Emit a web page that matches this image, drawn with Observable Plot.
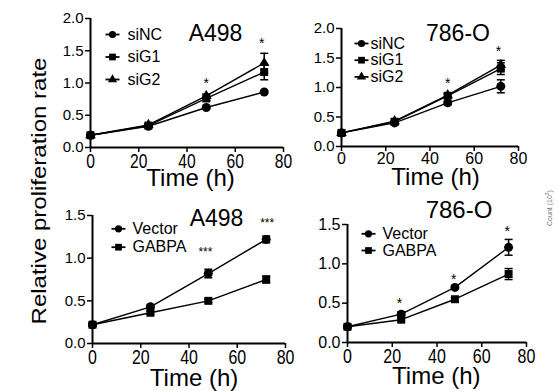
<!DOCTYPE html>
<html>
<head>
<meta charset="utf-8">
<script src="https://cdn.jsdelivr.net/npm/d3@7"></script>
<script src="https://cdn.jsdelivr.net/npm/@observablehq/plot@0.6"></script>
<style>
html, body { margin: 0; padding: 0; background: #fff; }
#fig { position: relative; width: 558px; height: 391px; overflow: hidden; background: #fff;
       font-family: "Liberation Sans", Arial, Helvetica, sans-serif; color: #000; }
#fig svg { position: absolute; overflow: visible; }
#fig g[aria-label="x-axis tick"] path, #fig g[aria-label="y-axis tick"] path { stroke-width: 1.5px; }
#fig g[aria-label="sig3"] text { letter-spacing: 1.5px; }
.ylab { position: absolute; left: 39px; top: 191px; font-size: 20px; white-space: nowrap; line-height: 1;
        transform: translate(-50%, -50%) rotate(-90deg) scaleX(1.2); }
.count { position: absolute; left: 549px; top: 208px; font-size: 7px; white-space: nowrap; color: #777; line-height: 1;
         transform: translate(-50%, -50%) rotate(-90deg); }
</style>
</head>
<body>
<div id="fig">
  <div class="ylab">Relative proliferation rate</div>
  <div class="count">Count (10<sup style="font-size:5px">3</sup>)</div>
</div>
<script>
// ---------- data ----------
const times = [0, 24, 48, 72];
const xTicks = [0, 20, 40, 60, 80];
const yTicksTop = [0, 0.5, 1.0, 1.5, 2.0];
const yTicksBottom = [0, 0.5, 1.0, 1.5];
const titles = ["A498", "786-O", "A498", "786-O"];
const xLabel = "Time (h)";
const knockdownNames = ["siNC", "siG1", "siG2"];
const overexpNames = ["Vector", "GABPA"];

// A498, knockdown
const a498kd_siNC = [0.19, 0.33, 0.62, 0.86];
const a498kd_siNC_err = [0.02, 0.02, 0.02, 0.02];
const a498kd_siG1 = [0.19, 0.34, 0.76, 1.17];
const a498kd_siG1_err = [0.02, 0.02, 0.03, 0.12];
const a498kd_siG2 = [0.19, 0.35, 0.80, 1.31];
const a498kd_siG2_err = [0.02, 0.02, 0.03, 0.15];
const a498kd_starX = [48, 71];
const a498kd_starY = [1.05, 1.67];
const a498kd_starText = ["*", "*"];

// 786-O, knockdown
const o786kd_siNC = [0.23, 0.40, 0.74, 1.02];
const o786kd_siNC_err = [0.02, 0.02, 0.03, 0.11];
const o786kd_siG1 = [0.23, 0.42, 0.86, 1.32];
const o786kd_siG1_err = [0.02, 0.02, 0.03, 0.10];
const o786kd_siG2 = [0.23, 0.43, 0.87, 1.38];
const o786kd_siG2_err = [0.02, 0.02, 0.03, 0.08];
const o786kd_starX = [48, 71];
const o786kd_starY = [1.13, 1.67];
const o786kd_starText = ["*", "*"];

// A498, overexpression
const a498oe_Vector = [0.22, 0.43, 0.82, 1.22];
const a498oe_Vector_err = [0.02, 0.02, 0.05, 0.04];
const a498oe_GABPA = [0.22, 0.36, 0.50, 0.75];
const a498oe_GABPA_err = [0.02, 0.02, 0.02, 0.04];
const a498oe_starX = [72.4, 46.8];
const a498oe_starY = [1.44, 1.11];
const a498oe_starText = ["***", "***"];

// 786-O, overexpression
const o786oe_Vector = [0.20, 0.36, 0.70, 1.21];
const o786oe_Vector_err = [0.02, 0.03, 0.02, 0.10];
const o786oe_GABPA = [0.20, 0.29, 0.55, 0.87];
const o786oe_GABPA_err = [0.02, 0.02, 0.02, 0.07];
const o786oe_starX = [23.2, 47.5, 71.4];
const o786oe_starY = [0.54, 0.85, 1.45];
const o786oe_starText = ["*", "*", "*"];

// ---------- layout ----------
const symbols = ["circle", "square", "triangle"];
const markerR = {circle: 4.5, square: 4.5, triangle: 3.9};
const legendR = {circle: 3.6, square: 3.8, triangle: 3.4};

const panels = [
  {title: titles[0], names: knockdownNames,
   values: [a498kd_siNC, a498kd_siG1, a498kd_siG2], errors: [a498kd_siNC_err, a498kd_siG1_err, a498kd_siG2_err],
   starX: a498kd_starX, starY: a498kd_starY, starText: a498kd_starText,
   yMax: 2, yTicks: yTicksTop,
   left: 0, top: 0, width: 300, height: 200, mL: 90, mR: 17, mT: 18, mB: 53,
   xFont: 20, xCondense: 0.78, yFont: 15,
   titleDx: 125, titleDy: 15.5, titleFont: 23,
   legDx: 22, legDy: 16, legStep: 22.5, legTextDx: 37, legFont: 16,
   labDx: 3.5, labDy: 31},
  {title: titles[1], names: knockdownNames,
   values: [o786kd_siNC, o786kd_siG1, o786kd_siG2], errors: [o786kd_siNC_err, o786kd_siG1_err, o786kd_siG2_err],
   starX: o786kd_starX, starY: o786kd_starY, starText: o786kd_starText,
   yMax: 2, yTicks: yTicksTop,
   left: 280, top: 0, width: 278, height: 200, mL: 61, mR: 40, mT: 28, mB: 54,
   xFont: 16, xCondense: 1, yFont: 15,
   titleDx: 116.5, titleDy: 5.5, titleFont: 23,
   legDx: 20, legDy: 15, legStep: 16.7, legTextDx: 29, legFont: 16,
   labDx: 5.5, labDy: 31},
  {title: titles[2], names: overexpNames,
   values: [a498oe_Vector, a498oe_GABPA], errors: [a498oe_Vector_err, a498oe_GABPA_err],
   starX: a498oe_starX, starY: a498oe_starY, starText: a498oe_starText,
   yMax: 1.5, yTicks: yTicksBottom,
   left: 0, top: 195, width: 300, height: 196, mL: 92, mR: 15, mT: 20, mB: 48,
   xFont: 21, xCondense: 0.76, yFont: 15,
   titleDx: 124, titleDy: 3, titleFont: 23,
   legDx: 26, legDy: 13.3, legStep: 18.4, legTextDx: 40, legFont: 16,
   labDx: 5, labDy: 34.5},
  {title: titles[3], names: overexpNames,
   values: [o786oe_Vector, o786oe_GABPA], errors: [o786oe_Vector_err, o786oe_GABPA_err],
   starX: o786oe_starX, starY: o786oe_starY, starText: o786oe_starText,
   yMax: 1.5, yTicks: yTicksBottom,
   left: 280, top: 195, width: 278, height: 196, mL: 67, mR: 32, mT: 29, mB: 49,
   xFont: 20, xCondense: 0.8, yFont: 16,
   titleDx: 111.5, titleDy: -14, titleFont: 24,
   legDx: 21, legDy: 9.3, legStep: 16.7, legTextDx: 35, legFont: 16,
   labDx: -0.7, labDy: 34}
];

const capSym = {draw(c) { c.moveTo(-4, 0); c.lineTo(4, 0); }};
const legSym = {draw(c) { c.moveTo(-7, 0); c.lineTo(7, 0); }};
const font = '"Liberation Sans", Arial, Helvetica, sans-serif';
const fig = document.getElementById("fig");

for (const p of panels) {
  const rows = p.names.flatMap((name, si) =>
    times.map((t, i) => ({name, si, t, v: p.values[si][i], e: p.errors[si][i]})));
  const stars = p.starX.map((x, i) => ({x, y: p.starY[i], label: p.starText[i]}));

  const marks = [
    Plot.line(rows, {x: "t", y: "v", z: "name", stroke: "black", strokeWidth: 1.4}),
    Plot.ruleX(rows, {x: "t", y1: d => d.v - d.e, y2: d => d.v + d.e, stroke: "black", strokeWidth: 1.5}),
    Plot.dot(rows, {x: "t", y: d => d.v + d.e, symbol: capSym, r: 3, fill: "none", stroke: "black", strokeWidth: 1.5}),
    Plot.dot(rows, {x: "t", y: d => d.v - d.e, symbol: capSym, r: 3, fill: "none", stroke: "black", strokeWidth: 1.5}),
    ...p.names.map((name, si) =>
      Plot.dot(rows.filter(d => d.si === si), {x: "t", y: "v", symbol: symbols[si], r: markerR[symbols[si]], fill: "black", stroke: "none"})),
    Plot.ruleY([0], {stroke: "black", strokeWidth: 2}),
    Plot.ruleX([0], {stroke: "black", strokeWidth: 2}),
    Plot.axisX({ticks: xTicks, tickSize: 5, tickPadding: 1, fontSize: p.xFont, label: null, tickFormat: d => String(d)}),
    Plot.axisY({ticks: p.yTicks, tickSize: 5, tickPadding: 2, fontSize: p.yFont, label: null, tickFormat: d => d.toFixed(1)}),
    Plot.text([p.title], {frameAnchor: "top-left", dx: p.titleDx, dy: p.titleDy, text: d => d,
      fontSize: p.titleFont, textAnchor: "middle", lineAnchor: "middle", fill: "black"}),
    Plot.text([xLabel], {frameAnchor: "bottom", dx: p.labDx, dy: p.labDy, text: d => d,
      fontSize: 24, textAnchor: "middle", lineAnchor: "middle", fill: "black"}),
    ...p.names.flatMap((name, si) => [
      Plot.dot([name], {frameAnchor: "top-left", dx: p.legDx, dy: p.legDy + si * p.legStep, symbol: legSym, r: 3,
        fill: "none", stroke: "black", strokeWidth: 1.8}),
      Plot.dot([name], {frameAnchor: "top-left", dx: p.legDx, dy: p.legDy + si * p.legStep, symbol: symbols[si],
        r: legendR[symbols[si]], fill: "black", stroke: "none"}),
      Plot.text([name], {frameAnchor: "top-left", dx: p.legTextDx, dy: p.legDy + si * p.legStep, text: d => d,
        fontSize: p.legFont, textAnchor: "start", lineAnchor: "middle", fill: "black"})
    ]),
    Plot.text(stars.filter(d => d.label === "*"), {x: "x", y: "y", text: "label", fontSize: 14, dy: 3.5,
      textAnchor: "middle", lineAnchor: "middle", fill: "black"}),
    Plot.text(stars.filter(d => d.label === "***"), {x: "x", y: "y", text: "label", fontSize: 12, dy: 3,
      textAnchor: "middle", lineAnchor: "middle", fill: "black", ariaLabel: "sig3"})
  ];

  const svg = Plot.plot({
    width: p.width, height: p.height,
    marginLeft: p.mL, marginRight: p.mR, marginTop: p.mT, marginBottom: p.mB,
    x: {domain: [0, 80]},
    y: {domain: [0, p.yMax]},
    style: {fontFamily: font, background: "transparent", overflow: "visible", color: "black"},
    marks
  });
  svg.style.position = "absolute";
  svg.style.left = p.left + "px";
  svg.style.top = p.top + "px";
  fig.appendChild(svg);

  if (p.xCondense !== 1) {
    svg.querySelectorAll('g[aria-label="x-axis tick label"] text').forEach(t => {
      const w = t.getComputedTextLength();
      t.setAttribute("textLength", (w * p.xCondense).toFixed(2));
      t.setAttribute("lengthAdjust", "spacingAndGlyphs");
    });
  }
}
</script>
</body>
</html>
